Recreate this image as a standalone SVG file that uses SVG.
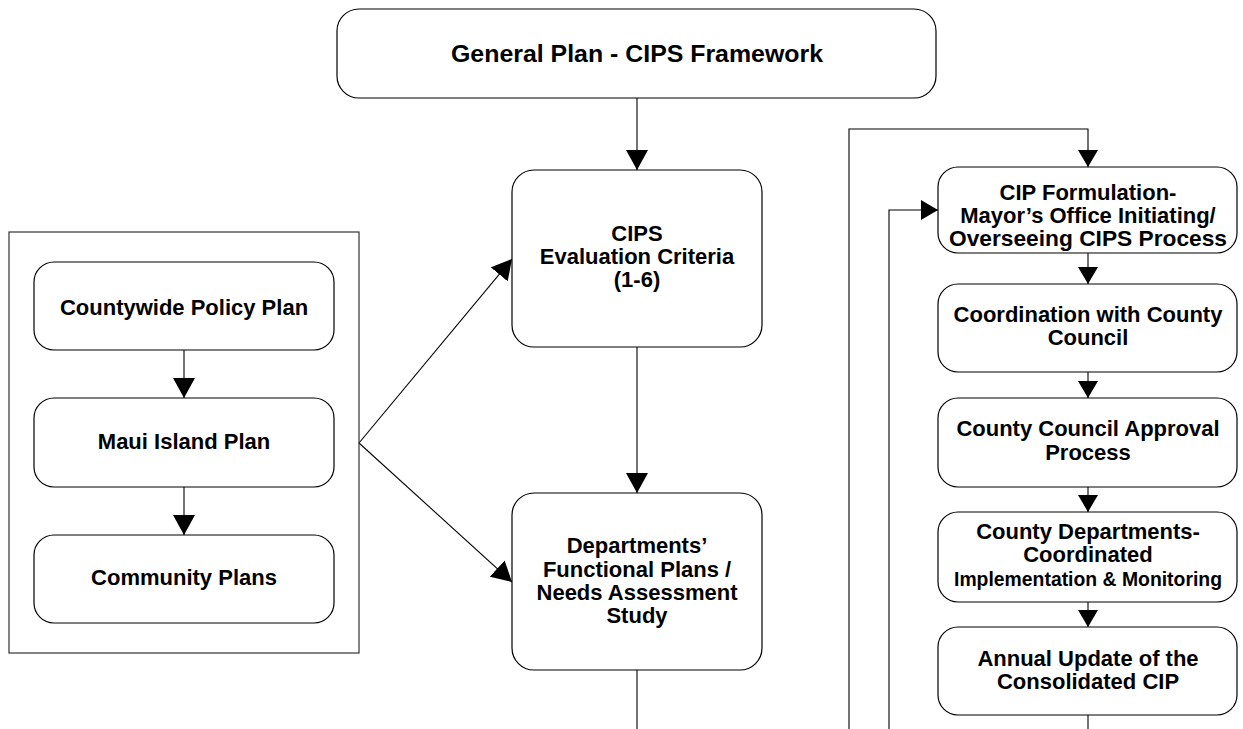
<svg xmlns="http://www.w3.org/2000/svg" width="1243" height="729" viewBox="0 0 1243 729">
<style>
.box{fill:#fff;stroke:#000;stroke-width:1.2}
.frame{fill:none;stroke:#333;stroke-width:1.2}
.ln{fill:none;stroke:#000;stroke-width:1.1}
text{font-family:"Liberation Sans",Arial,sans-serif;font-weight:bold;font-size:22px;fill:#000;text-anchor:middle}
.sm{font-size:19.5px}
.ttl{font-size:24px}
</style>
<defs>
<marker id="ah" markerUnits="userSpaceOnUse" markerWidth="21" markerHeight="22" refX="20" refY="11" orient="auto" viewBox="0 0 21 22">
<path d="M0,0 L20,11 L0,22 z" fill="#000"/>
</marker>
<marker id="ahs" markerUnits="userSpaceOnUse" markerWidth="18" markerHeight="20" refX="17" refY="10" orient="auto" viewBox="0 0 18 20">
<path d="M0,0 L17,10 L0,20 z" fill="#000"/>
</marker>
</defs>
<rect width="1243" height="729" fill="#fff"/>

<g id="connectors">
<line class="ln" x1="637" y1="98" x2="637" y2="170" marker-end="url(#ah)"/>
<line class="ln" x1="637" y1="347" x2="637" y2="493" marker-end="url(#ah)"/>
<line class="ln" x1="637" y1="670" x2="637" y2="729"/>
<line class="ln" x1="184" y1="350" x2="184" y2="398" marker-end="url(#ah)"/>
<line class="ln" x1="184" y1="487" x2="184" y2="535" marker-end="url(#ah)"/>
<line class="ln" x1="359" y1="443" x2="512" y2="259" marker-end="url(#ah)"/>
<line class="ln" x1="359" y1="443" x2="512" y2="582" marker-end="url(#ah)"/>
<polyline class="ln" points="849,729 849,129 1088,129 1088,167" marker-end="url(#ahs)"/>
<polyline class="ln" points="889,729 889,210 938,210" marker-end="url(#ahs)"/>
<line class="ln" x1="1088" y1="253" x2="1088" y2="284" marker-end="url(#ahs)"/>
<line class="ln" x1="1088" y1="372" x2="1088" y2="398" marker-end="url(#ahs)"/>
<line class="ln" x1="1088" y1="487" x2="1088" y2="512" marker-end="url(#ahs)"/>
<line class="ln" x1="1088" y1="602" x2="1088" y2="627" marker-end="url(#ahs)"/>
<line class="ln" x1="1088" y1="715" x2="1088" y2="729"/>
</g>

<g id="plan-group">
<rect class="frame" x="9" y="232" width="350" height="421"/>
</g>

<g id="general-plan">
<rect class="box" x="337" y="9" width="599" height="89" rx="22"/>
<text class="ttl" x="637" y="62" textLength="372" lengthAdjust="spacingAndGlyphs">General Plan - CIPS Framework</text>
</g>

<g id="countywide">
<rect class="box" x="34" y="262" width="300" height="88" rx="20"/>
<text x="184" y="315">Countywide Policy Plan</text>
</g>

<g id="maui">
<rect class="box" x="34" y="398" width="300" height="89" rx="20"/>
<text x="184" y="449">Maui Island Plan</text>
</g>

<g id="community">
<rect class="box" x="34" y="535" width="300" height="88" rx="20"/>
<text x="184" y="585">Community Plans</text>
</g>

<g id="cips-criteria">
<rect class="box" x="512" y="170" width="250" height="177" rx="22"/>
<text x="637" y="241">CIPS</text>
<text x="637" y="264">Evaluation Criteria</text>
<text x="637" y="287">(1-6)</text>
</g>

<g id="departments">
<rect class="box" x="512" y="493" width="250" height="177" rx="22"/>
<text x="637" y="553">Departments’</text>
<text x="637" y="577">Functional Plans /</text>
<text x="637" y="600">Needs Assessment</text>
<text x="637" y="623">Study</text>
</g>

<g id="cip-formulation">
<rect class="box" x="938" y="167" width="299" height="86" rx="20"/>
<text x="1088" y="200">CIP Formulation-</text>
<text x="1088" y="223">Mayor’s Office Initiating/</text>
<text x="1088" y="246" textLength="278" lengthAdjust="spacingAndGlyphs">Overseeing CIPS Process</text>
</g>

<g id="coordination">
<rect class="box" x="938" y="284" width="299" height="88" rx="20"/>
<text x="1088" y="322">Coordination with County</text>
<text x="1088" y="345">Council</text>
</g>

<g id="approval">
<rect class="box" x="938" y="398" width="299" height="89" rx="20"/>
<text x="1088" y="436">County Council Approval</text>
<text x="1088" y="460">Process</text>
</g>

<g id="implementation">
<rect class="box" x="938" y="512" width="299" height="90" rx="20"/>
<text x="1088" y="539">County Departments-</text>
<text x="1088" y="562">Coordinated</text>
<text class="sm" x="1088" y="586" textLength="268" lengthAdjust="spacingAndGlyphs">Implementation &amp; Monitoring</text>
</g>

<g id="annual-update">
<rect class="box" x="938" y="627" width="299" height="88" rx="20"/>
<text x="1088" y="666">Annual Update of the</text>
<text x="1088" y="689">Consolidated CIP</text>
</g>
</svg>
